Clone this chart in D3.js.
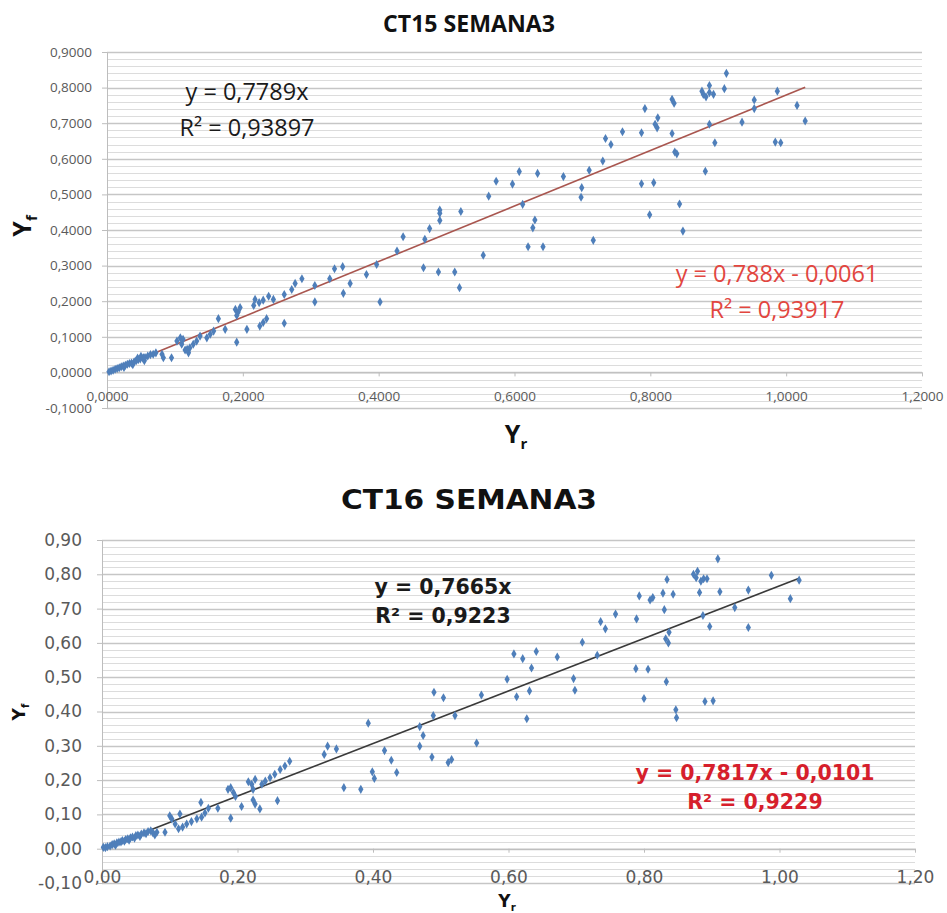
<!DOCTYPE html>
<html>
<head>
<meta charset="utf-8">
<script src="https://cdnjs.cloudflare.com/ajax/libs/d3/7.8.5/d3.min.js"></script>
<style>
  body { margin: 0; background: #fff; }
  svg { display: block; }
</style>
</head>
<body>
<svg id="chart"></svg>
<script>
// values (Yr, Yf)
var ct15Points = [
  [0.003,0.002],[0.006,0.004],[0.009,0.006],[0.012,0.009],[0.015,0.011],[0.018,0.013],[0.021,0.016],
  [0.024,0.018],[0.025,0.014],[0.027,0.020],[0.030,0.023],[0.033,0.025],[0.036,0.026],[0.038,0.022],
  [0.040,0.030],[0.043,0.033],[0.045,0.040],[0.046,0.036],[0.049,0.038],[0.050,0.045],[0.053,0.040],
  [0.054,0.041],[0.055,0.033],[0.056,0.042],[0.060,0.046],[0.064,0.050],[0.068,0.051],[0.072,0.055],
  [0.081,0.051],[0.083,0.041],[0.095,0.041],[0.103,0.088],[0.108,0.097],[0.112,0.093],[0.110,0.079],
  [0.115,0.063],[0.120,0.055],[0.118,0.065],[0.122,0.069],[0.127,0.079],[0.132,0.088],[0.137,0.102],
  [0.147,0.097],[0.152,0.107],[0.157,0.116],[0.164,0.151],[0.174,0.121],[0.189,0.177],[0.193,0.169],
  [0.191,0.160],[0.196,0.182],[0.191,0.085],[0.206,0.121],[0.216,0.188],[0.218,0.205],[0.224,0.196],
  [0.230,0.203],[0.238,0.214],[0.245,0.205],[0.235,0.151],[0.230,0.140],[0.225,0.130],[0.261,0.219],
  [0.261,0.138],[0.272,0.233],[0.277,0.250],[0.287,0.263],[0.306,0.244],[0.306,0.198],[0.328,0.263],
  [0.335,0.291],[0.347,0.297],[0.348,0.222],[0.358,0.250],[0.382,0.275],[0.397,0.303],[0.402,0.198],
  [0.427,0.341],[0.436,0.381],[0.466,0.294],[0.468,0.374],[0.475,0.404],[0.490,0.456],[0.490,0.447],
  [0.490,0.427],[0.521,0.452],[0.488,0.282],[0.512,0.282],[0.519,0.238],[0.554,0.329],[0.562,0.495],
  [0.573,0.537],[0.597,0.529],[0.607,0.564],[0.634,0.559],[0.612,0.472],[0.627,0.406],[0.630,0.428],
  [0.620,0.353],[0.642,0.353],[0.672,0.550],[0.699,0.519],[0.698,0.492],[0.710,0.568],[0.716,0.371],
  [0.730,0.594],[0.734,0.657],[0.742,0.640],[0.759,0.676],[0.787,0.673],[0.792,0.741],[0.787,0.530],
  [0.805,0.533],[0.799,0.443],[0.807,0.697],[0.810,0.687],[0.811,0.715],[0.832,0.767],[0.835,0.756],
  [0.832,0.671],[0.836,0.619],[0.839,0.614],[0.843,0.473],[0.848,0.397],[0.876,0.790],[0.878,0.781],
  [0.882,0.774],[0.887,0.806],[0.893,0.781],[0.887,0.786],[0.887,0.697],[0.881,0.565],[0.895,0.645],
  [0.912,0.840],[0.909,0.797],[0.935,0.703],[0.953,0.765],[0.953,0.741],[0.984,0.647],[0.992,0.645],
  [0.987,0.790],[1.016,0.750],[1.028,0.706]
];
var ct16Points = [
  [0.002,0.004],[0.005,0.003],[0.008,0.006],[0.012,0.008],[0.015,0.012],[0.018,0.014],[0.020,0.010],
  [0.022,0.017],[0.025,0.019],[0.028,0.020],[0.030,0.024],[0.033,0.022],[0.035,0.027],[0.038,0.029],
  [0.040,0.025],[0.042,0.032],[0.045,0.034],[0.048,0.031],[0.050,0.038],[0.053,0.040],[0.056,0.036],
  [0.058,0.043],[0.062,0.046],[0.065,0.044],[0.068,0.050],[0.072,0.052],[0.075,0.047],[0.078,0.040],
  [0.081,0.048],[0.093,0.048],[0.100,0.096],[0.103,0.087],[0.108,0.072],[0.113,0.058],[0.119,0.063],
  [0.125,0.072],[0.132,0.079],[0.140,0.087],[0.147,0.092],[0.152,0.104],[0.157,0.118],[0.115,0.101],
  [0.146,0.135],[0.171,0.118],[0.190,0.089],[0.186,0.173],[0.190,0.178],[0.194,0.164],[0.197,0.152],
  [0.206,0.123],[0.216,0.195],[0.221,0.188],[0.226,0.202],[0.223,0.173],[0.223,0.142],[0.226,0.130],
  [0.233,0.116],[0.236,0.188],[0.241,0.197],[0.248,0.207],[0.255,0.217],[0.263,0.231],[0.270,0.241],
  [0.277,0.255],[0.259,0.140],[0.328,0.275],[0.333,0.299],[0.346,0.291],[0.357,0.178],[0.382,0.173],
  [0.393,0.366],[0.399,0.224],[0.402,0.205],[0.417,0.286],[0.427,0.258],[0.435,0.222],[0.469,0.356],
  [0.474,0.330],[0.469,0.299],[0.489,0.388],[0.490,0.456],[0.504,0.440],[0.487,0.267],[0.511,0.251],
  [0.516,0.260],[0.521,0.388],[0.553,0.308],[0.560,0.448],[0.598,0.494],[0.608,0.568],[0.621,0.554],
  [0.641,0.575],[0.634,0.527],[0.612,0.443],[0.631,0.460],[0.627,0.379],[0.672,0.559],[0.696,0.496],
  [0.698,0.462],[0.709,0.602],[0.731,0.564],[0.736,0.662],[0.743,0.641],[0.758,0.684],[0.789,0.670],
  [0.793,0.737],[0.788,0.525],[0.806,0.523],[0.800,0.438],[0.809,0.725],[0.813,0.732],[0.830,0.697],
  [0.828,0.745],[0.843,0.742],[0.834,0.785],[0.832,0.612],[0.836,0.600],[0.837,0.631],[0.833,0.487],
  [0.847,0.405],[0.848,0.382],[0.873,0.800],[0.879,0.809],[0.888,0.787],[0.884,0.780],[0.877,0.790],
  [0.893,0.787],[0.882,0.747],[0.887,0.680],[0.897,0.648],[0.890,0.429],[0.902,0.431],[0.909,0.845],
  [0.912,0.749],[0.934,0.703],[0.954,0.754],[0.954,0.645],[0.988,0.797],[1.016,0.729],[1.029,0.783]
];

// trendlines: [through origin, with intercept]
var ct15Slopes = [0.7789, 0.788];
var ct15Intercepts = [0, -0.0061];
var ct16Slopes = [0.7665, 0.7817];
var ct16Intercepts = [0, -0.0101];

var ct15Eq = ["y = 0,7789x", "R² = 0,93897"];
var ct15EqRed = ["y = 0,788x - 0,0061", "R² = 0,93917"];
var ct16Eq = ["y = 0,7665x", "R² = 0,9223"];
var ct16EqRed = ["y = 0,7817x - 0,0101", "R² = 0,9229"];

var xTicks = [0, 0.2, 0.4, 0.6, 0.8, 1.0, 1.2];
var yTicks = [-0.1, 0, 0.1, 0.2, 0.3, 0.4, 0.5, 0.6, 0.7, 0.8, 0.9];

var svgWidth = 947;
var svgHeight = 913;
var svg = d3.select("#chart").attr("width", svgWidth).attr("height", svgHeight);

var esLocale = d3.formatLocale({ decimal: ",", thousands: ".", grouping: [3], currency: ["", ""], minus: "-" });

var drawPanel = function (p) {
  var g = svg.append("g");
  var xScale = d3.scaleLinear().domain([0, 1.2]).range([p.left, p.right]);
  var yScale = d3.scaleLinear().domain([-0.1, 0.9]).range([p.bottom, p.top]);

  // minor then major horizontal gridlines
  g.append("g").selectAll("line")
    .data(yScale.ticks(50))
    .enter().append("line")
    .attr("x1", p.left).attr("x2", p.right)
    .attr("y1", function (d) { return Math.round(yScale(d)) + 0.5; })
    .attr("y2", function (d) { return Math.round(yScale(d)) + 0.5; })
    .attr("stroke", "#dcdcdc").attr("stroke-width", 1);
  g.append("g").selectAll("line")
    .data(yTicks)
    .enter().append("line")
    .attr("x1", p.left).attr("x2", p.right)
    .attr("y1", function (d) { return Math.round(yScale(d)) + 0.5; })
    .attr("y2", function (d) { return Math.round(yScale(d)) + 0.5; })
    .attr("stroke", "#c6c6c6").attr("stroke-width", 1.3);

  var fmt = esLocale.format(p.fmt);
  var yAxis = d3.axisLeft(yScale).tickValues(yTicks).tickFormat(fmt)
    .tickSizeInner(5).tickSizeOuter(0).tickPadding(p.yPad);
  var xAxis = d3.axisBottom(xScale).tickValues(xTicks).tickFormat(fmt)
    .tickSizeInner(4).tickSizeOuter(0).tickPadding(p.xPad);

  var ya = g.append("g")
    .attr("transform", "translate(" + p.left + ",0)")
    .call(yAxis);
  var xa = g.append("g")
    .attr("transform", "translate(0," + yScale(0) + ")")
    .call(xAxis);
  [ya, xa].forEach(function (a) {
    a.select(".domain").attr("stroke", "#bdbdbd");
    a.selectAll(".tick line").attr("stroke", "#bdbdbd");
    a.selectAll("text")
      .attr("fill", "#5a5a5a")
      .style("font-family", p.font)
      .style("font-size", p.tickSize + "px");
  });

  // trendline from 0 to the last Yr value
  var xMax = d3.max(p.points, function (d) { return d[0]; });
  var line = d3.line()
    .x(function (d) { return xScale(d[0]); })
    .y(function (d) { return yScale(d[1]); });
  g.append("path")
    .datum([[0, p.intercepts[p.lineIdx]], [xMax, p.slopes[p.lineIdx] * xMax + p.intercepts[p.lineIdx]]])
    .attr("d", line)
    .attr("fill", "none")
    .attr("stroke", p.lineColor)
    .attr("stroke-width", 1.6);

  g.append("g").selectAll("path")
    .data(p.points)
    .enter().append("path")
    .attr("d", d3.symbol(d3.symbolDiamond).size(24))
    .attr("transform", function (d) { return "translate(" + xScale(d[0]) + "," + yScale(d[1]) + ")"; })
    .attr("fill", "#4f7fba");

  // title
  g.append("text")
    .attr("x", p.titleX).attr("y", p.titleY)
    .attr("text-anchor", "middle")
    .attr("textLength", p.titleLen).attr("lengthAdjust", "spacingAndGlyphs")
    .style("font-family", p.font).style("font-weight", "bold")
    .style("font-size", p.titleSize + "px").attr("fill", "#111")
    .text(p.title);

  // equations
  var eq = function (lines, x, y, color, gap) {
    lines.forEach(function (t, i) {
      g.append("text")
        .attr("x", x).attr("y", y + i * gap)
        .attr("text-anchor", "middle")
        .style("font-family", p.font).style("font-weight", p.eqWeight)
        .style("font-size", p.eqSize + "px").attr("fill", color)
        .text(t);
    });
  };
  eq(p.eq, p.eqPos[0], p.eqPos[1], "#1a1a1a", p.eqGap);
  eq(p.eqRed, p.eqRedPos[0], p.eqRedPos[1], p.redColor, p.eqGap);

  // axis titles Yf / Yr
  var yt = g.append("text")
    .attr("transform", "translate(" + p.yfPos[0] + "," + p.yfPos[1] + ") rotate(-90)")
    .attr("text-anchor", "middle")
    .style("font-family", p.font).style("font-weight", "bold")
    .style("font-size", p.axisSize + "px").attr("fill", "#111");
  yt.append("tspan").text("Y");
  yt.append("tspan").attr("dy", p.axisSize * 0.25).style("font-size", (p.axisSize * 0.6) + "px").text("f");
  var xt = g.append("text")
    .attr("x", p.yrPos[0]).attr("y", p.yrPos[1])
    .attr("text-anchor", "middle")
    .style("font-family", p.font).style("font-weight", "bold")
    .style("font-size", p.axisSize + "px").attr("fill", "#111");
  xt.append("tspan").text("Y");
  xt.append("tspan").attr("dy", p.axisSize * 0.25).style("font-size", (p.axisSize * 0.6) + "px").text("r");
};

drawPanel({
  points: ct15Points, slopes: ct15Slopes, intercepts: ct15Intercepts,
  lineIdx: 0, lineColor: "#a9564f",
  left: 107, right: 922, top: 52, bottom: 408,
  fmt: ".4f", font: "'Open Sans', sans-serif", tickSize: 13.5, yPad: 10, xPad: 15,
  title: "CT15 SEMANA3", titleX: 469, titleY: 32, titleSize: 24, titleLen: 172,
  eq: ct15Eq, eqRed: ct15EqRed, eqSize: 23.5, eqWeight: "normal", eqGap: 36,
  eqPos: [247, 100], eqRedPos: [777, 282], redColor: "#e2463f",
  axisSize: 25, yfPos: [31, 226], yrPos: [516, 443]
});

drawPanel({
  points: ct16Points, slopes: ct16Slopes, intercepts: ct16Intercepts,
  lineIdx: 0, lineColor: "#3a3a3a",
  left: 102, right: 915, top: 540, bottom: 883,
  fmt: ".2f", font: "'DejaVu Sans', sans-serif", tickSize: 17, yPad: 15, xPad: 18,
  title: "CT16 SEMANA3", titleX: 469, titleY: 509, titleSize: 26, titleLen: 256,
  eq: ct16Eq, eqRed: ct16EqRed, eqSize: 20.5, eqWeight: "bold", eqGap: 29,
  eqPos: [443, 594], eqRedPos: [755, 780], redColor: "#d61f2c",
  axisSize: 17, yfPos: [25, 712], yrPos: [507, 907]
});
</script>
</body>
</html>
